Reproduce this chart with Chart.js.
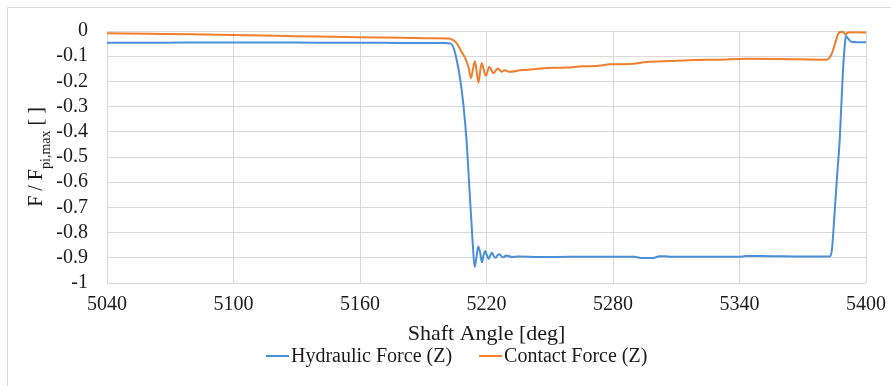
<!DOCTYPE html>
<html>
<head>
<meta charset="utf-8">
<style>
  html, body { margin: 0; padding: 0; background: #fff; }
  #chart { display: block; }
</style>
</head>
<body>
<canvas id="chart" width="891" height="386"></canvas>
<script src="https://cdn.jsdelivr.net/npm/chart.js@4.4.1/dist/chart.umd.min.js"></script>
<script>
// values
const xTicks = [5040, 5100, 5160, 5220, 5280, 5340, 5400];
const yTicks = [0, -0.1, -0.2, -0.3, -0.4, -0.5, -0.6, -0.7, -0.8, -0.9, -1];

const hydAngle = [5040, 5060, 5075, 5100, 5130, 5150, 5170, 5190, 5200, 5203, 5204.5, 5206, 5207.5, 5209, 5210.5,
  5212, 5213.3, 5214.4, 5215.2, 5216.1, 5217, 5217.8, 5218.6, 5219.4, 5220.2, 5221, 5221.8, 5222.6, 5223.4,
  5224.3, 5225.2, 5226.2, 5227.2, 5228.2, 5229.2, 5230.5, 5232, 5235, 5245, 5260, 5275, 5290, 5294, 5299,
  5302, 5305, 5307, 5340, 5343, 5350, 5370, 5382.8, 5383.8, 5384.4, 5386, 5387.6, 5389, 5390, 5390.5,
  5391.5, 5393, 5396, 5400];
const hydForce = [-0.047, -0.047, -0.046, -0.046, -0.046, -0.047, -0.047, -0.048, -0.048, -0.05, -0.07, -0.12, -0.19, -0.29, -0.43,
  -0.64, -0.82, -0.937, -0.9, -0.855, -0.88, -0.918, -0.89, -0.873, -0.89, -0.905, -0.89, -0.88, -0.893,
  -0.9, -0.89, -0.886, -0.895, -0.898, -0.891, -0.893, -0.897, -0.895, -0.897, -0.896, -0.896, -0.896, -0.901, -0.901,
  -0.894, -0.894, -0.896, -0.896, -0.893, -0.893, -0.895, -0.895, -0.87, -0.81, -0.61, -0.42, -0.17, -0.05, -0.02,
  -0.03, -0.043, -0.045, -0.045];

const conAngle = [5040, 5060, 5080, 5100, 5120, 5140, 5160, 5180, 5195, 5202, 5204, 5206, 5208, 5210, 5211.5,
  5212.6, 5213.6, 5214.5, 5215.4, 5216.2, 5217, 5217.7, 5218.7, 5219.7, 5220.5, 5221.3, 5222.3, 5223.2,
  5224.3, 5225.3, 5226.2, 5227.2, 5228.5, 5231, 5236, 5242, 5249, 5258, 5265.8, 5272, 5278.6, 5288, 5296,
  5307, 5319.7, 5330, 5343, 5360, 5381, 5382.5, 5384, 5385.5, 5386.8, 5387.7, 5389, 5390.3, 5391.5, 5395, 5400];
const conForce = [-0.009, -0.011, -0.013, -0.016, -0.019, -0.022, -0.025, -0.027, -0.029, -0.03, -0.035, -0.05, -0.08, -0.11, -0.145,
  -0.187, -0.15, -0.12, -0.165, -0.205, -0.16, -0.127, -0.155, -0.178, -0.16, -0.142, -0.155, -0.168,
  -0.158, -0.149, -0.155, -0.162, -0.156, -0.162, -0.156, -0.152, -0.147, -0.145, -0.14, -0.139, -0.132, -0.131, -0.123,
  -0.119, -0.115, -0.114, -0.11, -0.111, -0.114, -0.108, -0.085, -0.045, -0.012, -0.004, -0.003, -0.014, -0.006, -0.005, -0.006];

const BLUE = '#4a8fd9';
const ORANGE = '#f07f2f';
const GRID = '#d9d9d9';
const TEXT = '#1a1a1a';
const SERIF = '"Liberation Serif", "Times New Roman", serif';

function toPoints(xs, ys) {
  return xs.map((x, i) => ({ x: x, y: ys[i] }));
}

// y axis title "F / F_pi,max [ ]", drawn rotated and centred on the plot
// [text, font size, offset below baseline]
const yTitleParts = [
  ['F / F', 20, 0],
  ['pi,max', 14, 8],
  [' [ ]', 20, 0]
];
const yTitlePlugin = {
  id: 'yTitle',
  afterDraw(chart) {
    const c = chart.ctx;
    let w = 0;
    yTitleParts.forEach(p => { c.font = p[1] + 'px ' + SERIF; w += c.measureText(p[0]).width; });
    const area = chart.chartArea;
    c.save();
    c.translate(42, (area.top + area.bottom) / 2);
    c.rotate(-Math.PI / 2);
    c.fillStyle = TEXT;
    c.textBaseline = 'alphabetic';
    let x = -w / 2;
    yTitleParts.forEach(p => {
      c.font = p[1] + 'px ' + SERIF;
      c.fillText(p[0], x, p[2]);
      x += c.measureText(p[0]).width;
    });
    c.restore();
  }
};

// Excel style legend: short line then label, under the plot
const legendPlugin = {
  id: 'lineLegend',
  afterDraw(chart) {
    const c = chart.ctx;
    c.save();
    c.font = '20px ' + SERIF;
    c.textBaseline = 'middle';
    c.fillStyle = TEXT;
    let x = 266;
    const y = 356;
    chart.data.datasets.forEach(ds => {
      c.strokeStyle = ds.borderColor;
      c.lineWidth = 2;
      c.beginPath();
      c.moveTo(x, y);
      c.lineTo(x + 23, y);
      c.stroke();
      x += 25;
      c.fillText(ds.label, x, y + 1);
      x += c.measureText(ds.label).width + 27;
    });
    c.restore();
  }
};

// light frame round the whole chart (left and top edges are visible)
const framePlugin = {
  id: 'frame',
  beforeDraw(chart) {
    const c = chart.ctx;
    c.save();
    c.fillStyle = '#fff';
    c.fillRect(0, 0, chart.width, chart.height);
    c.strokeStyle = GRID;
    c.lineWidth = 1;
    c.beginPath();
    c.moveTo(7.5, chart.height);
    c.lineTo(7.5, 7.5);
    c.lineTo(chart.width, 7.5);
    c.stroke();
    c.restore();
  }
};

const ctx = document.getElementById('chart').getContext('2d');
const chart = new Chart(ctx, {
  type: 'line',
  data: {
    datasets: [
      {
        label: 'Hydraulic Force (Z)',
        data: toPoints(hydAngle, hydForce),
        borderColor: BLUE,
        backgroundColor: BLUE,
        borderWidth: 2,
        pointRadius: 0,
        cubicInterpolationMode: 'monotone'
      },
      {
        label: 'Contact Force (Z)',
        data: toPoints(conAngle, conForce),
        borderColor: ORANGE,
        backgroundColor: ORANGE,
        borderWidth: 2,
        pointRadius: 0,
        cubicInterpolationMode: 'monotone'
      }
    ]
  },
  options: {
    responsive: false,
    animation: false,
    layout: { padding: { left: 0, right: 25, top: 23, bottom: 39 } },
    plugins: {
      legend: { display: false },
      tooltip: { enabled: false }
    },
    scales: {
      x: {
        type: 'linear',
        min: xTicks[0],
        max: xTicks[xTicks.length - 1],
        afterBuildTicks: s => { s.ticks = xTicks.map(v => ({ value: v })); },
        afterFit: s => { s.height = 64; s.paddingLeft = 20; s.paddingRight = 20; },
        ticks: {
          autoSkip: false,
          maxRotation: 0,
          padding: 10,
          color: TEXT,
          font: { family: SERIF, size: 20 },
          callback: v => String(v)
        },
        grid: { color: GRID, drawTicks: false },
        border: { display: false },
        title: {
          display: true,
          text: 'Shaft Angle [deg]',
          color: TEXT,
          font: { family: SERIF, size: 22 },
          padding: 0
        }
      },
      y: {
        min: -1,
        max: 0,
        afterBuildTicks: s => { s.ticks = yTicks.map(v => ({ value: v })); },
        afterFit: s => { s.width = 107; },
        ticks: {
          autoSkip: false,
          padding: 19,
          color: TEXT,
          font: { family: SERIF, size: 20 },
          callback: v => String(Math.round(v * 10) / 10)
        },
        grid: { color: GRID, drawTicks: false },
        border: { display: false }
      }
    }
  },
  plugins: [framePlugin, yTitlePlugin, legendPlugin]
});
</script>
</body>
</html>
